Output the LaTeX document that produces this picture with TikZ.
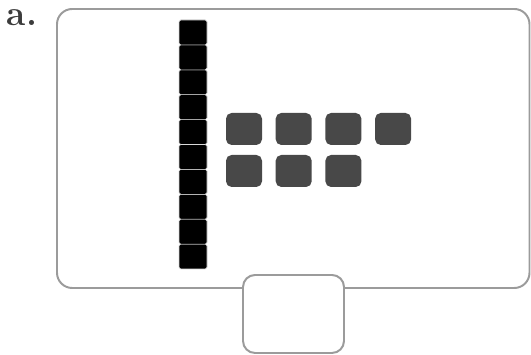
\documentclass[tikz,border=0pt]{standalone}
\usepackage{tikz}
\usetikzlibrary{positioning}
\definecolor{FrameGray}{RGB}{155,155,155}
\definecolor{UnitGray}{RGB}{72,72,72}
\definecolor{LabelGray}{RGB}{60,60,60}

\begin{document}
\begin{tikzpicture}[x=0.25cm, y=0.25cm,
    frame/.style={draw=FrameGray, line width=1.4pt, fill=white},
    tencell/.style={fill=black, draw=black!15, line width=0.4pt, rounded corners=1.2pt},
    oneblock/.style={fill=UnitGray, rounded corners=4pt}]
    \useasboundingbox (0,0) rectangle (53.1,35.5);

    % mat and answer box
    \draw[frame, rounded corners=0.38cm] (5.7,6.7) rectangle (52.95,34.6);
    \draw[frame, rounded corners=0.3cm] (24.3,0.2) rectangle (34.4,8.0);

    % one ten
    \foreach \i in {0,...,9}
      \draw[tencell] (17.9, 8.6+2.49*\i) rectangle ++(2.8, 2.49);

    % ones
    \foreach \x in {0,1,2,3}
      \fill[oneblock] (22.6+4.97*\x, 21.0) rectangle ++(3.6, 3.2);
    \foreach \x in {0,1,2}
      \fill[oneblock] (22.6+4.97*\x, 16.8) rectangle ++(3.6, 3.2);

    \node[text=LabelGray, inner sep=0pt, font=\fontsize{25}{30}\selectfont\bfseries] (lbl) at (2.2,33.75) {a.};
\end{tikzpicture}
\end{document}
